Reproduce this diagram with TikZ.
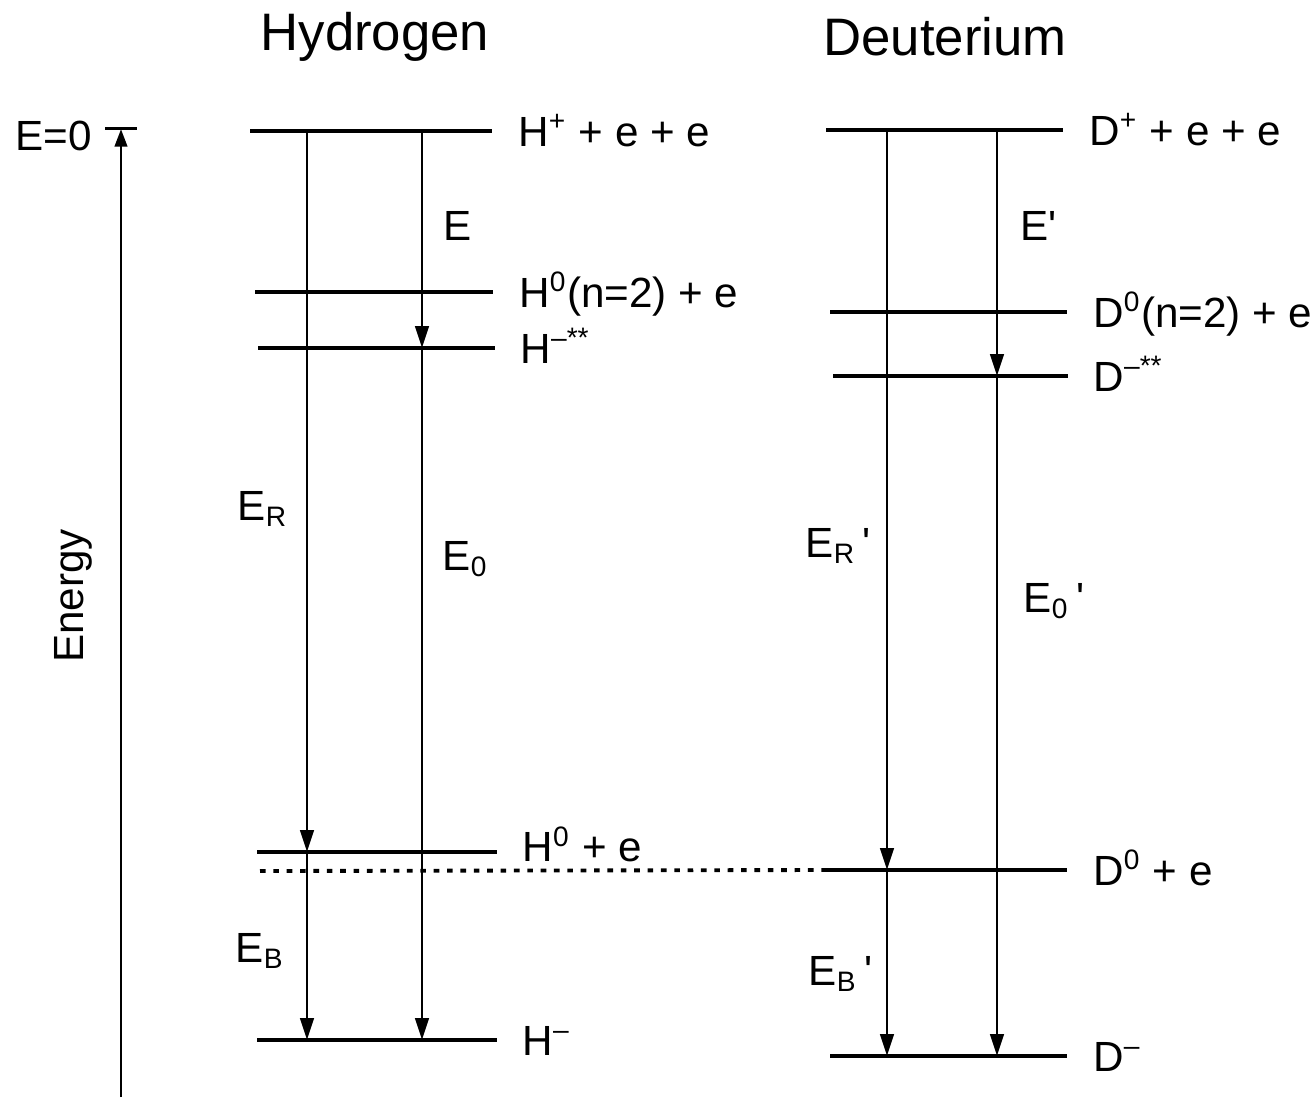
\documentclass[tikz,border=0pt]{standalone}
\usepackage{fontspec}
\setmainfont{Liberation Sans}
\usetikzlibrary{arrows.meta}

\tikzset{
  level/.style={line width=1.4pt},
  thinlevel/.style={line width=1.0pt},
  trans/.style={line width=0.85pt, -{Triangle[length=6.2pt,width=3.8pt]}},
  lab/.style={font=\fontsize{12}{14}\selectfont, anchor=base west, inner sep=0pt, xshift=6.8pt, yshift=-4.3pt},
  elab/.style={font=\fontsize{12}{14}\selectfont, anchor=base west, inner sep=0pt},
  title/.style={font=\fontsize{15}{18}\selectfont},
}
\newcommand{\pr}{\textquotesingle}

\begin{document}
\begin{tikzpicture}[x=0.01cm, y=-0.01cm]
  \useasboundingbox (0,0) rectangle (1314,1099);

  % titles
  \node[title] (htitle) at (375,37) {Hydrogen};
  \node[title] (dtitle) at (945,37) {Deuterium};

  % energy axis
  \coordinate (tickl) at (105,128);
  \coordinate (tickr) at (137,128);
  \coordinate (ebot) at (121,1097);
  \coordinate (etop) at (121,129);
  \draw[line width=0.85pt] (tickl) -- (tickr);
  \draw[line width=0.85pt, -{Triangle[length=5pt,width=3.5pt]}] (ebot) -- (etop);
  \node[elab] (ezero) at (15,150) {E=0};
  \node[font=\fontsize{12}{14}\selectfont, rotate=90] (energy) at (73,596) {Energy};

  % columns of the transitions
  \coordinate (Hx1) at (307,0);
  \coordinate (Hx2) at (422,0);
  \coordinate (Dx1) at (887,0);
  \coordinate (Dx2) at (997,0);

  % hydrogen levels
  \draw[level] (250,131) coordinate (Hion) -- (492,131)
    node[lab] (Hionl) {H\textsuperscript{+} + e + e};
  \draw[level] (255,292) coordinate (Hexc) -- (493,292)
    node[lab] (Hexcl) {H\textsuperscript{0}(n=2) + e};
  \draw[thinlevel] (258,348) coordinate (Hdex) -- (495,348)
    node[lab] (Hdexl) {H\textsuperscript{--**}};
  \draw[thinlevel] (257,852) coordinate (Hatom) -- (497,852)
    node[lab, yshift=1.6pt] (Hatoml) {H\textsuperscript{0} + e};
  \draw[thinlevel] (257,1040) coordinate (Hneg) -- (497,1040)
    node[lab] (Hnegl) {H\textsuperscript{--}};

  % deuterium levels
  \draw[level] (826,130) coordinate (Dion) -- (1063,130)
    node[lab] (Dionl) {D\textsuperscript{+} + e + e};
  \draw[level] (830,312) coordinate (Dexc) -- (1067,312)
    node[lab] (Dexcl) {D\textsuperscript{0}(n=2) + e};
  \draw[thinlevel] (833,376) coordinate (Ddex) -- (1068,376)
    node[lab] (Ddexl) {D\textsuperscript{--**}};
  \draw[level] (825,870) coordinate (Datom) -- (1067,870)
    node[lab] (Datoml) {D\textsuperscript{0} + e};
  \draw[level] (830,1056) coordinate (Dneg) -- (1067,1056)
    node[lab] (Dnegl) {D\textsuperscript{--}};

  % shift of the ground state
  \coordinate (Hdot) at (260,871);
  \draw[line width=1.1pt, dash pattern=on 1.6pt off 2.2pt] (Hdot) -- (Datom);

  % hydrogen transitions
  \draw[trans] (Hion -| Hx1) -- (Hatom -| Hx1);
  \draw[trans] (Hatom -| Hx1) -- (Hneg -| Hx1);
  \draw[trans] (Hion -| Hx2) -- (Hdex -| Hx2);
  \draw[trans] (Hdex -| Hx2) -- (Hneg -| Hx2);
  \node[elab] (hE) at (443,240) {E};
  \node[elab] (hER) at (237,520) {E\textsubscript{R}};
  \node[elab] (hE0) at (442,570) {E\textsubscript{0}};
  \node[elab] (hEB) at (235,962) {E\textsubscript{B}};

  % deuterium transitions
  \draw[trans] (Dion -| Dx1) -- (Datom -| Dx1);
  \draw[trans] (Datom -| Dx1) -- (Dneg -| Dx1);
  \draw[trans] (Dion -| Dx2) -- (Ddex -| Dx2);
  \draw[trans] (Ddex -| Dx2) -- (Dneg -| Dx2);
  \node[elab] (dE) at (1020,240) {E\pr};
  \node[elab] (dER) at (805,557) {E\textsubscript{R}\,\pr};
  \node[elab] (dE0) at (1023,612) {E\textsubscript{0}\,\pr};
  \node[elab] (dEB) at (808,985) {E\textsubscript{B}\,\pr};
\end{tikzpicture}
\end{document}
